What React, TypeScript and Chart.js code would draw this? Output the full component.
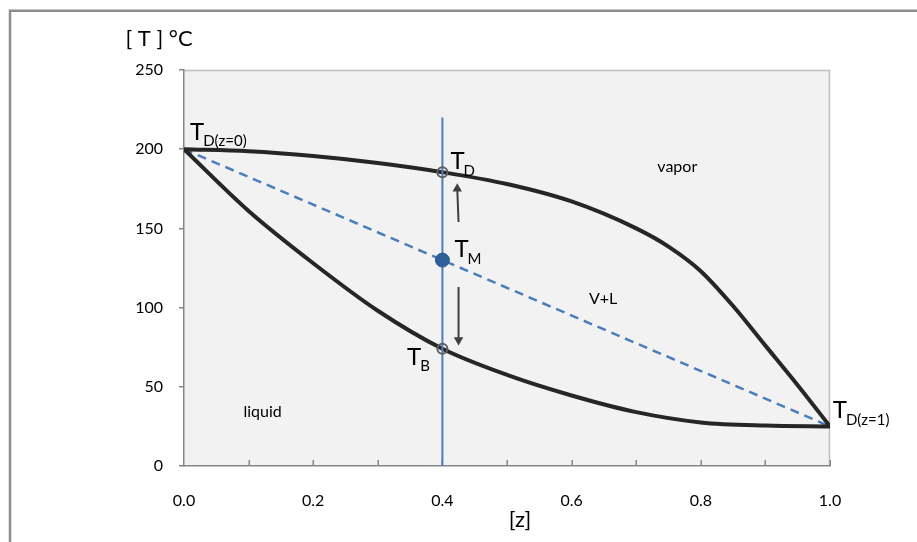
import React, { useEffect, useRef } from 'react';
import { Chart, registerables } from 'chart.js';

Chart.register(...registerables);

// Dew-point (upper) curve
const dewZ = [0, 0.1, 0.2, 0.3, 0.4, 0.5, 0.6, 0.7, 0.75, 0.8, 0.85, 0.9, 0.95, 1.0];
const dewT = [200, 198.7, 195.7, 191.3, 185.5, 178, 167, 150, 138.5, 123, 101, 76, 51, 25];
// Bubble-point (lower) curve
const bubZ = [0, 0.1, 0.2, 0.3, 0.4, 0.5, 0.6, 0.7, 0.8, 0.9, 1.0];
const bubT = [200, 161, 128, 98, 74, 57.5, 44.5, 34, 27.5, 25.5, 25];
// Dashed mixing line
const mixZ = [0, 1];
const mixT = [200, 25];
// Vertical feed line
const feedZ = [0.4, 0.4];
const feedT = [0, 220];
// Points T_D, T_M, T_B
const pointZ = [0.4, 0.4, 0.4];
const pointT = [185.5, 130, 74];
// Arrows
const arrowUpZ = [0.425, 0.423];
const arrowUpT = [154, 175];
const arrowDownZ = [0.425, 0.425];
const arrowDownT = [113, 79.5];
// Axis ticks
const xTickValues = [0, 0.2, 0.4, 0.6, 0.8, 1.0];
const xMinorTicks = [0.1, 0.2, 0.3, 0.4, 0.5, 0.6, 0.7, 0.8, 0.9, 1.0];
const yTickValues = [0, 50, 100, 150, 200, 250];
// Text annotations (in data coordinates)
const tLabelMain = ['T', 'T', 'T', 'T', 'T'];
const tLabelSub = ['D(z=0)', 'D', 'M', 'B', 'D(z=1)'];
const tLabelZ = [0.0093, 0.4124, 0.4186, 0.3453, 1.0042];
const tLabelT = [206, 187.3, 131.8, 63.8, 30.1];
const regionText = ['vapor', 'V+L', 'liquid'];
const regionZ = [0.7636, 0.6488, 0.1217];
const regionT = [185.8, 102.1, 31];
const yTitle = '[ T ] °C';
const xTitle = '[z]';

const FONT = 'Lato, "Open Sans", sans-serif';

const pts = (xs: number[], ys: number[]) => xs.map((x, i) => ({ x, y: ys[i] }));

const decorPlugin = {
  id: 'decor',
  beforeDraw(chart: any) {
    const { ctx, chartArea: a } = chart;
    ctx.save();
    // outer frame
    ctx.strokeStyle = '#8c8c8c';
    ctx.lineWidth = 2.5;
    ctx.strokeRect(10, 10.75, 1200, 1200);
    // plot background
    ctx.fillStyle = '#f2f2f2';
    ctx.fillRect(a.left, a.top, a.right - a.left, a.bottom - a.top);
    ctx.strokeStyle = '#bfbfbf';
    ctx.lineWidth = 1.5;
    ctx.beginPath();
    ctx.moveTo(a.left, a.top + 0.5);
    ctx.lineTo(a.right - 0.5, a.top + 0.5);
    ctx.lineTo(a.right - 0.5, a.bottom);
    ctx.stroke();
    ctx.restore();
  },
  beforeDatasetsDraw(chart: any) {
    const { ctx, chartArea: a, scales } = chart;
    ctx.save();
    ctx.strokeStyle = '#868686';
    ctx.lineWidth = 1.5;
    ctx.beginPath();
    xMinorTicks.forEach((v) => {
      const px = Math.round(scales.x.getPixelForValue(v)) + 0.25;
      ctx.moveTo(px, a.bottom);
      ctx.lineTo(px, a.bottom - 6);
    });
    ctx.stroke();
    ctx.restore();
  },
  afterDatasetsDraw(chart: any) {
    const { ctx, scales } = chart;
    ctx.save();
    ctx.fillStyle = '#000';
    ctx.textAlign = 'left';
    ctx.textBaseline = 'alphabetic';
    tLabelMain.forEach((m, i) => {
      const px = scales.x.getPixelForValue(tLabelZ[i]);
      const py = scales.y.getPixelForValue(tLabelT[i]);
      ctx.font = `24px ${FONT}`;
      ctx.fillText(m, px, py);
      const w = ctx.measureText(m).width;
      ctx.font = `15px ${FONT}`;
      ctx.fillText(tLabelSub[i], px + w - 1, py + 6.5);
    });
    ctx.textAlign = 'center';
    ctx.font = `16px ${FONT}`;
    regionText.forEach((t, i) => {
      ctx.fillText(t, scales.x.getPixelForValue(regionZ[i]), scales.y.getPixelForValue(regionT[i]));
    });
    ctx.font = `22px ${FONT}`;
    ctx.fillText(yTitle, 159, 46);
    ctx.fillText(xTitle, 520, 527);
    ctx.restore();
  },
};

export default function App() {
  const ref = useRef<HTMLCanvasElement | null>(null);
  useEffect(() => {
    if (!ref.current) return;
    const chart = new Chart(ref.current, {
      type: 'scatter',
      data: {
        datasets: [
          {
            data: pts(pointZ, pointT),
            showLine: false,
            pointRadius: [5, 7, 5],
            pointBackgroundColor: ['rgba(0,0,0,0)', '#2f5f98', 'rgba(0,0,0,0)'],
            pointBorderColor: ['#5f5f5f', '#2f5f98', '#5f5f5f'],
            pointBorderWidth: [2, 1, 2],
            order: 0,
          },
          {
            data: pts(arrowUpZ, arrowUpT),
            showLine: true,
            borderColor: '#404040',
            borderWidth: 2,
            pointStyle: 'triangle',
            pointRadius: [0, 5.5],
            pointBackgroundColor: '#404040',
            pointBorderColor: '#404040',
            pointBorderWidth: 0,
            pointRotation: 0,
            order: 1,
          },
          {
            data: pts(arrowDownZ, arrowDownT),
            showLine: true,
            borderColor: '#404040',
            borderWidth: 2,
            pointStyle: 'triangle',
            pointRadius: [0, 5.5],
            pointBackgroundColor: '#404040',
            pointBorderColor: '#404040',
            pointBorderWidth: 0,
            pointRotation: 180,
            order: 1,
          },
          {
            data: pts(dewZ, dewT),
            showLine: true,
            borderColor: '#262626',
            borderWidth: 4,
            pointRadius: 0,
            cubicInterpolationMode: 'monotone',
            order: 3,
          },
          {
            data: pts(bubZ, bubT),
            showLine: true,
            borderColor: '#262626',
            borderWidth: 4,
            pointRadius: 0,
            cubicInterpolationMode: 'monotone',
            order: 3,
          },
          {
            data: pts(mixZ, mixT),
            showLine: true,
            borderColor: '#4a7ebb',
            borderWidth: 2.5,
            borderDash: [9, 6],
            pointRadius: 0,
            order: 4,
          },
          {
            data: pts(feedZ, feedT),
            showLine: true,
            borderColor: '#4a7ebb',
            borderWidth: 2,
            pointRadius: 0,
            order: 2,
          },
        ],
      },
      options: {
        responsive: false,
        animation: false,
        events: [],
        layout: { padding: { left: 0, top: 70, right: 87, bottom: 0 } },
        plugins: { legend: { display: false }, tooltip: { enabled: false } },
        scales: {
          x: {
            type: 'linear',
            min: 0,
            max: 1,
            afterFit: (s: any) => { s.height = 76; },
            afterBuildTicks: (s: any) => { s.ticks = xTickValues.map((v) => ({ value: v })); },
            ticks: {
              callback: (v: any) => Number(v).toFixed(1),
              font: { size: 16, family: FONT },
              color: '#000',
              padding: 25,
              maxRotation: 0,
              autoSkip: false,
            },
            grid: { drawOnChartArea: false, drawTicks: false },
            border: { display: true, color: '#868686', width: 1.5 },
          },
          y: {
            type: 'linear',
            min: 0,
            max: 250,
            afterFit: (s: any) => { s.width = 184; },
            afterBuildTicks: (s: any) => { s.ticks = yTickValues.map((v) => ({ value: v })); },
            ticks: {
              font: { size: 16, family: FONT },
              color: '#000',
              padding: 16,
              autoSkip: false,
            },
            grid: { drawOnChartArea: false, drawTicks: true, tickLength: 5, color: '#868686', lineWidth: 1.5 },
            border: { display: true, color: '#868686', width: 1.5 },
          },
        },
      },
      plugins: [decorPlugin],
    } as any);
    return () => chart.destroy();
  }, []);
  return (
    <div style={{ position: 'fixed', left: 0, top: 0, width: 917, height: 542, background: '#fff' }}>
      <canvas ref={ref} width={917} height={542} style={{ display: 'block', width: 917, height: 542 }} />
    </div>
  );
}
